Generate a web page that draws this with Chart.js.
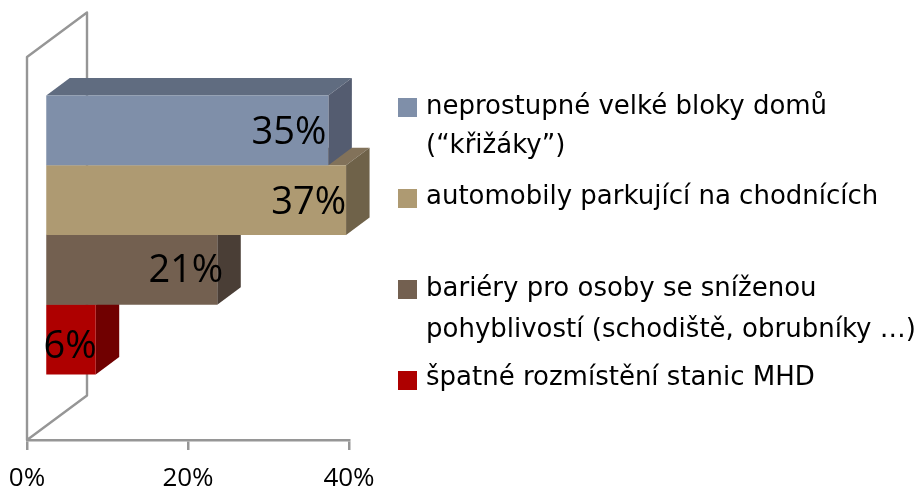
<!DOCTYPE html>
<html><head><meta charset="utf-8">
<style>html,body{margin:0;padding:0;background:#fff}#w{width:921px;height:491px}</style>
<script src="https://cdn.jsdelivr.net/npm/chart.js@4/dist/chart.umd.min.js"></script>
</head><body><div id="w"><canvas id="c" width="921" height="491"></canvas></div>
<script>
const categories = [''];
const seriesNames = [
  ['neprostupné velké bloky domů', '(“křižáky”)'],
  ['automobily parkující na chodnících'],
  ['bariéry pro osoby se sníženou', 'pohyblivostí (schodiště, obrubníky …)'],
  ['špatné rozmístění stanic MHD']
];
const seriesValues = [35.2, 37.4, 21.4, 6.3];
const tickValues = [0, 20, 40];
const frontColors = ['#7F8FA9', '#AE9A72', '#736050', '#AE0000'];
const topColors   = ['#606C80', '#82725A', '#564840', '#820000'];
const sideColors  = ['#545C70', '#6F6249', '#4A3E36', '#700000'];
const labelShift  = [-2, 0, 6, 1];
const labelDrop   = [3, 3, 1, 8];
const legendSwatchY = [107.5, 198.5, 289.5, 380.5];
const legendFirstLineY = [107, 197, 289, 378];
const legendLineStep = [39, 0, 41, 0];

const LEGEND_FONT = '"DejaVu Sans"';
const NUM_FONT = '"Open Sans"';
const BAR = {dx: 18, dy: -13.5};
const DEPTH = {dx: 23.5, dy: -17.5};
const WALL = {dx: 60, dy: -44.5};

const scene = {
  id: 'scene',
  beforeDatasetsDraw(chart) {
    const {ctx, chartArea: a} = chart;
    ctx.save();
    ctx.strokeStyle = '#969696';
    ctx.lineWidth = 2.4;
    ctx.lineJoin = 'round';
    ctx.beginPath();
    ctx.moveTo(a.left, a.bottom);
    ctx.lineTo(a.left + WALL.dx, a.bottom + WALL.dy);
    ctx.lineTo(a.left + WALL.dx, a.top + WALL.dy);
    ctx.lineTo(a.left, a.top);
    ctx.closePath();
    ctx.stroke();
    ctx.restore();
    ctx.save();
    ctx.translate(BAR.dx, BAR.dy);
  },
  beforeDatasetDraw(chart, args) {
    const {ctx} = chart;
    const bar = chart.getDatasetMeta(args.index).data[0];
    const p = bar.getProps(['x', 'y', 'base', 'height'], true);
    const t = p.y - p.height / 2, b = p.y + p.height / 2;
    ctx.fillStyle = topColors[args.index];
    ctx.beginPath();
    ctx.moveTo(p.base, t);
    ctx.lineTo(p.base + DEPTH.dx, t + DEPTH.dy);
    ctx.lineTo(p.x + DEPTH.dx, t + DEPTH.dy);
    ctx.lineTo(p.x, t);
    ctx.closePath();
    ctx.fill();
    ctx.fillStyle = sideColors[args.index];
    ctx.beginPath();
    ctx.moveTo(p.x, t);
    ctx.lineTo(p.x + DEPTH.dx, t + DEPTH.dy);
    ctx.lineTo(p.x + DEPTH.dx, b + DEPTH.dy);
    ctx.lineTo(p.x, b);
    ctx.closePath();
    ctx.fill();
  },
  afterDatasetsDraw(chart) {
    const {ctx} = chart;
    ctx.fillStyle = '#000';
    ctx.font = '38px ' + NUM_FONT;
    ctx.textAlign = 'right';
    ctx.textBaseline = 'middle';
    seriesValues.forEach((v, i) => {
      const p = chart.getDatasetMeta(i).data[0].getProps(['x', 'y'], true);
      ctx.fillText(Math.round(v) + '%', p.x + labelShift[i], p.y + labelDrop[i]);
    });
    ctx.restore();
    ctx.save();
    ctx.font = '26px ' + LEGEND_FONT;
    ctx.textAlign = 'left';
    ctx.textBaseline = 'middle';
    seriesNames.forEach((lines, i) => {
      ctx.fillStyle = frontColors[i];
      ctx.fillRect(398, legendSwatchY[i] - 9.5, 19, 19);
      ctx.fillStyle = '#000';
      lines.forEach((ln, j) => ctx.fillText(ln, 426, legendFirstLineY[i] + j * legendLineStep[i]));
    });
    ctx.restore();
  }
};

new Chart(document.getElementById('c'), {
  type: 'bar',
  plugins: [scene],
  data: {
    labels: categories,
    datasets: seriesValues.map((v, i) => ({
      label: seriesNames[i].join(' '),
      data: [v],
      backgroundColor: frontColors[i],
      borderWidth: 0,
      clip: false,
      categoryPercentage: 0.728,
      barPercentage: 1
    }))
  },
  options: {
    indexAxis: 'y',
    responsive: false,
    animation: false,
    layout: {padding: {left: 27, right: 572, top: 57, bottom: 0}},
    plugins: {legend: {display: false}, tooltip: {enabled: false}},
    scales: {
      y: {display: false},
      x: {
        min: 0, max: 40,
        afterBuildTicks(s) { s.ticks = tickValues.map(value => ({value})); },
        afterFit(s) { s.height = 51; s.paddingLeft = 0; s.paddingRight = 0; },
        border: {display: true, color: '#969696', width: 2.5},
        grid: {drawOnChartArea: false, drawTicks: true, tickLength: 10, color: '#969696', lineWidth: 2.5},
        ticks: {
          autoSkip: false, maxRotation: 0, padding: 13,
          color: '#000',
          font: {family: NUM_FONT, size: 26},
          callback: v => v + '%'
        }
      }
    }
  }
});
</script></body></html>
